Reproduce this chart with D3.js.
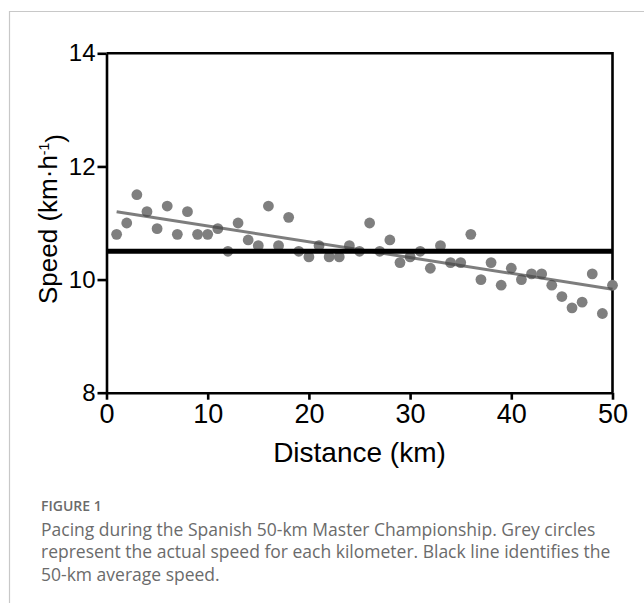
<!DOCTYPE html>
<html>
<head>
<meta charset="utf-8">
<script src="https://cdn.jsdelivr.net/npm/d3@7/dist/d3.min.js"></script>
<style>
  body { margin: 0; background: #fff; }
  svg { display: block; }
</style>
</head>
<body>
<svg class="pacingSVG" width="644" height="603"></svg>
<script>
// kilometre splits and speeds
const km = d3.range(1, 51);
const speed = [
  10.8, 11.0, 11.5, 11.2, 10.9, 11.3, 10.8, 11.2, 10.8, 10.8,
  10.9, 10.5, 11.0, 10.7, 10.6, 11.3, 10.6, 11.1, 10.5, 10.4,
  10.6, 10.4, 10.4, 10.6, 10.5, 11.0, 10.5, 10.7, 10.3, 10.4,
  10.5, 10.2, 10.6, 10.3, 10.3, 10.8, 10.0, 10.3, 9.9, 10.2,
  10.0, 10.1, 10.1, 9.9, 9.7, 9.5, 9.6, 10.1, 9.4, 9.9
];
const averageSpeed = 10.5;
const trendKm = [1, 50];
const trendSpeed = [11.2, 9.83];
const xTicks = [0, 10, 20, 30, 40, 50];
const yTicks = [8, 10, 12, 14];
const captionTitle = 'FIGURE 1';
const captionLines = [
  'Pacing during the Spanish 50-km Master Championship. Grey circles',
  'represent the actual speed for each kilometer. Black line identifies the',
  '50-km average speed.'
];

function drawPacing(){
  const svg = d3.select('svg.pacingSVG');
  const tickFont = "'Liberation Sans Narrow', 'Arial Narrow', 'Liberation Sans', sans-serif";

  // card border (top + left only, like the journal page)
  svg.append('path')
    .attr('d', 'M644,11.5H9.5V603')
    .style('fill', 'none')
    .style('stroke', '#c8c8c8')
    .style('stroke-width', 1.2);

  const x = d3.scaleLinear().domain([0, 50]).range([106.5, 612.5]);
  const y = d3.scaleLinear().domain([8, 14]).range([392.7, 53.3]);

  const plot = svg.append('g').attr('class', 'plot');

  // x axis
  const xAxis = plot.append('g')
    .attr('transform', `translate(0,${y(8)})`)
    .call(d3.axisBottom(x).tickValues(xTicks).tickSize(7).tickPadding(4).tickSizeOuter(0));

  xAxis.selectAll('text')
    .style('font-family', tickFont)
    .style('font-size', '27px')
    .style('fill', '#000');

  // y axis
  const yAxis = plot.append('g')
    .attr('transform', `translate(${x(0)},0)`)
    .call(d3.axisLeft(y).tickValues(yTicks).tickFormat(d3.format('d'))
      .tickSize(9).tickPadding(2).tickSizeOuter(0));

  yAxis.selectAll('text')
    .style('font-family', tickFont)
    .style('font-size', '24px')
    .style('fill', '#000');

  plot.selectAll('.domain, .tick line')
    .style('stroke', '#000')
    .style('stroke-width', 2.6);

  // top and right sides of the frame
  plot.append('path')
    .attr('d', `M${x(0)},${y(14)}H${x(50)}V${y(8)}`)
    .style('fill', 'none')
    .style('stroke', '#000')
    .style('stroke-width', 2.6);

  // per-km speeds
  plot.append('g')
    .selectAll('circle')
    .data(km)
    .enter()
    .append('circle')
    .attr('cx', d => x(d))
    .attr('cy', (d, i) => y(speed[i]))
    .attr('r', 5.4)
    .style('fill', '#7f7f7f');

  // trend line
  const line = d3.line()
    .x(d => x(d[0]))
    .y(d => y(d[1]));

  plot.append('path')
    .datum(trendKm.map((k, i) => [k, trendSpeed[i]]))
    .attr('d', line)
    .style('fill', 'none')
    .style('stroke', 'rgba(70,70,70,0.7)')
    .style('stroke-width', 3);

  // 50-km average
  plot.append('path')
    .datum([[0, averageSpeed], [50, averageSpeed]])
    .attr('d', line)
    .style('fill', 'none')
    .style('stroke', '#000')
    .style('stroke-width', 5);

  // axis titles
  svg.append('text')
    .text('Distance (km)')
    .attr('x', (x(0) + x(50)) / 2)
    .attr('y', 461.5)
    .style('text-anchor', 'middle')
    .style('font-family', "'Liberation Sans', Arial, sans-serif")
    .style('font-size', '28px')
    .style('fill', '#000');

  const yTitle = svg.append('text')
    .attr('transform', `translate(57,${(y(8) + y(14)) / 2 - 4}) rotate(-90)`)
    .style('text-anchor', 'middle')
    .style('font-family', "'Liberation Sans', Arial, sans-serif")
    .style('font-size', '26px')
    .style('fill', '#000');

  yTitle.append('tspan').text('Speed (km\u00b7h');
  yTitle.append('tspan').text('-1')
    .attr('dy', '-0.55em')
    .style('font-size', '14px');
  yTitle.append('tspan').text(')')
    .attr('dy', '0.55em');

  // caption
  svg.append('text')
    .text(captionTitle)
    .attr('x', 41)
    .attr('y', 511)
    .style('font-family', "'Open Sans', sans-serif")
    .style('font-size', '14px')
    .style('font-weight', 600)
    .style('fill', '#6b6b6b');

  svg.selectAll('text.caption')
    .data(captionLines)
    .enter()
    .append('text')
    .attr('class', 'caption')
    .text(d => d)
    .attr('x', 41)
    .attr('y', (d, i) => 535.5 + i * 22.5)
    .style('font-family', "'Open Sans', sans-serif")
    .style('font-size', '17.5px')
    .style('fill', '#6b6b6b');
}

drawPacing();
</script>
</body>
</html>
